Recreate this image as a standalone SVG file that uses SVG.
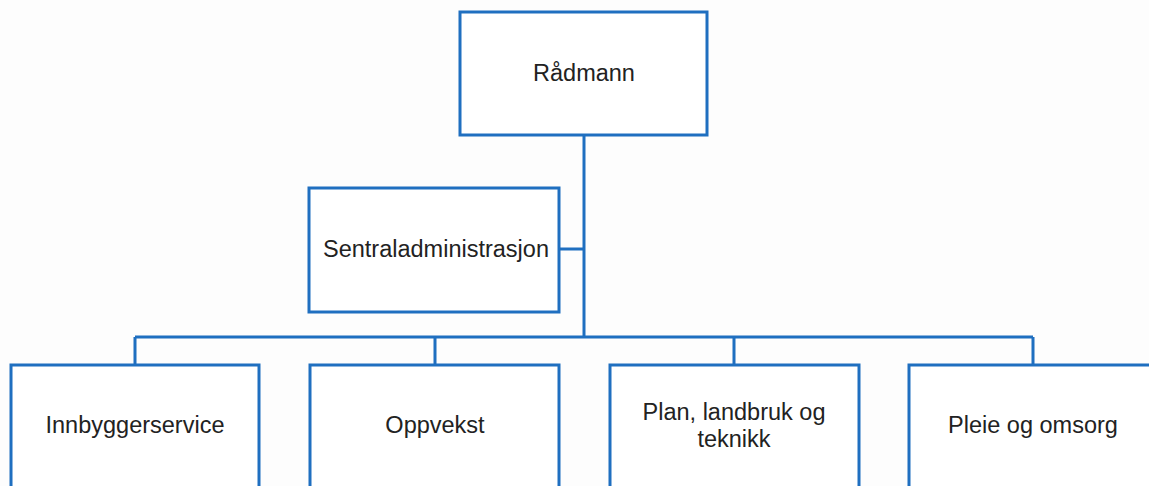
<svg xmlns="http://www.w3.org/2000/svg" width="1149" height="486" viewBox="0 0 1149 486">
<style>
.box{fill:#ffffff;stroke:#1f6fc0;stroke-width:3}
.con{fill:none;stroke:#1f6fc0;stroke-width:3}
text{font-family:"Liberation Sans","DejaVu Sans",sans-serif;font-size:23.5px;fill:#222222;text-anchor:middle}
</style>
<rect width="1149" height="486" fill="#fdfdfd"/>
<g id="connectors">
<path class="con" d="M584 135V337"/>
<path class="con" d="M559 249H584"/>
<path class="con" d="M135 337H1033"/>
<path class="con" d="M135 337V365M435 337V365M734 337V365M1033 337V365"/>
</g>
<g id="radmann"><rect class="box" x="460" y="12" width="247" height="123"/><text x="584" y="81">Rådmann</text></g>
<g id="sentraladministrasjon"><rect class="box" x="309" y="188" width="250" height="124"/><text x="436" y="257">Sentraladministrasjon</text></g>
<g id="innbyggerservice"><rect class="box" x="11" y="365" width="248" height="130"/><text x="135" y="433">Innbyggerservice</text></g>
<g id="oppvekst"><rect class="box" x="310" y="365" width="249" height="130"/><text x="435" y="433">Oppvekst</text></g>
<g id="plan"><rect class="box" x="610" y="365" width="249" height="130"/><text x="734" y="420">Plan, landbruk og</text><text x="734" y="447">teknikk</text></g>
<g id="pleie"><rect class="box" x="909" y="365" width="248" height="130"/><text x="1033" y="433">Pleie og omsorg</text></g>
</svg>
